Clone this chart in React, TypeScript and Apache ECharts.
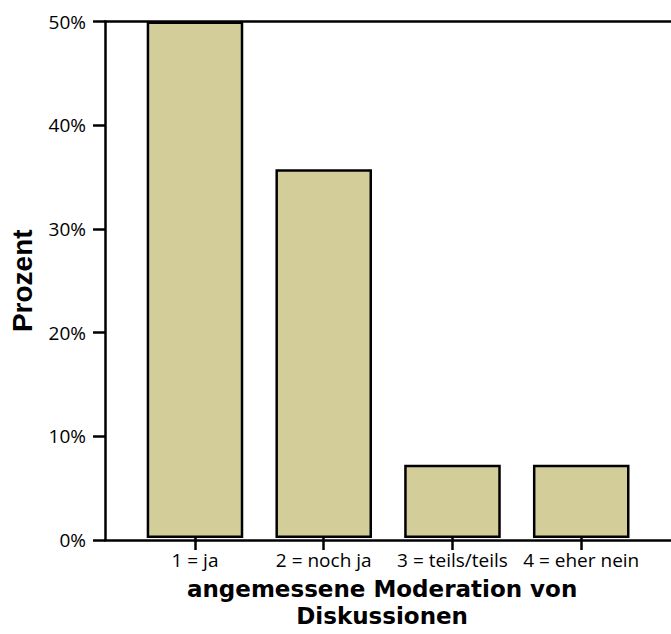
import React, { useEffect, useRef } from "react";
import * as echarts from "echarts";

const categories = ["1 = ja", "2 = noch ja", "3 = teils/teils", "4 = eher nein"];
const percentValues = [50, 35.7, 7.1, 7.1];
const yMin = 0;
const yMax = 50;
const yInterval = 10;
const xTitle = "angemessene Moderation von\nDiskussionen";
const yTitle = "Prozent";

const GRID_TOP = 21.5;
const GRID_BOTTOM = 94;

export default function App() {
  const ref = useRef<HTMLDivElement>(null);
  useEffect(() => {
    if (!ref.current) return;
    const chart = echarts.init(ref.current, undefined, { renderer: "svg" });
    const tickFont = { fontFamily: "Open Sans", fontSize: 19, color: "#000" };
    chart.setOption({
      animation: false,
      backgroundColor: "#fff",
      grid: [
        { left: 101.5, right: 0, top: GRID_TOP, bottom: GRID_BOTTOM },
        { left: 130.6, right: 25.4, top: GRID_TOP, bottom: GRID_BOTTOM },
      ],
      xAxis: [
        {
          gridIndex: 0,
          type: "value",
          position: "bottom",
          min: 0,
          max: 1,
          axisLine: { show: true, lineStyle: { color: "#000", width: 2.5 } },
          axisTick: { show: false },
          axisLabel: { show: false },
          splitLine: { show: false },
        },
        {
          gridIndex: 0,
          type: "value",
          position: "top",
          min: 0,
          max: 1,
          axisLine: { show: true, lineStyle: { color: "#000", width: 2.5 } },
          axisTick: { show: false },
          axisLabel: { show: false },
          splitLine: { show: false },
        },
        {
          gridIndex: 1,
          type: "category",
          data: categories,
          position: "bottom",
          axisLine: { show: false },
          axisTick: {
            show: true,
            alignWithLabel: true,
            length: 12,
            lineStyle: { color: "#000", width: 2.5 },
          },
          axisLabel: { ...tickFont, margin: 12, interval: 0 },
          name: xTitle,
          nameLocation: "middle",
          nameGap: 37,
          nameTextStyle: {
            fontFamily: "DejaVu Sans",
            fontWeight: "bold",
            fontSize: 23,
            lineHeight: 27,
            color: "#000",
            verticalAlign: "top",
            padding: [0, 12, 0, 0],
          },
        },
      ],
      yAxis: [
        {
          gridIndex: 0,
          type: "value",
          min: yMin,
          max: yMax,
          interval: yInterval,
          axisLine: { show: true, lineStyle: { color: "#000", width: 2.5 } },
          axisTick: { show: true, length: 12, lineStyle: { color: "#000", width: 2.5 } },
          axisLabel: { ...tickFont, margin: 19, formatter: "{value}%" },
          splitLine: { show: false },
          name: yTitle,
          nameLocation: "middle",
          nameGap: 69,
          nameRotate: 90,
          nameTextStyle: {
            fontFamily: "Liberation Sans",
            fontWeight: "bold",
            fontSize: 28,
            color: "#000",
          },
        },
        {
          gridIndex: 1,
          type: "value",
          min: yMin,
          max: yMax,
          interval: yInterval,
          show: false,
        },
      ],
      series: [
        {
          type: "bar",
          xAxisIndex: 2,
          yAxisIndex: 1,
          data: percentValues,
          barWidth: "75%",
          itemStyle: { color: "#D3CE99", borderColor: "#000", borderWidth: 2.5 },
        },
      ],
    });
    return () => chart.dispose();
  }, []);
  return (
    <div
      ref={ref}
      style={{ position: "fixed", left: 0, top: 0, width: 671, height: 634 }}
    />
  );
}
